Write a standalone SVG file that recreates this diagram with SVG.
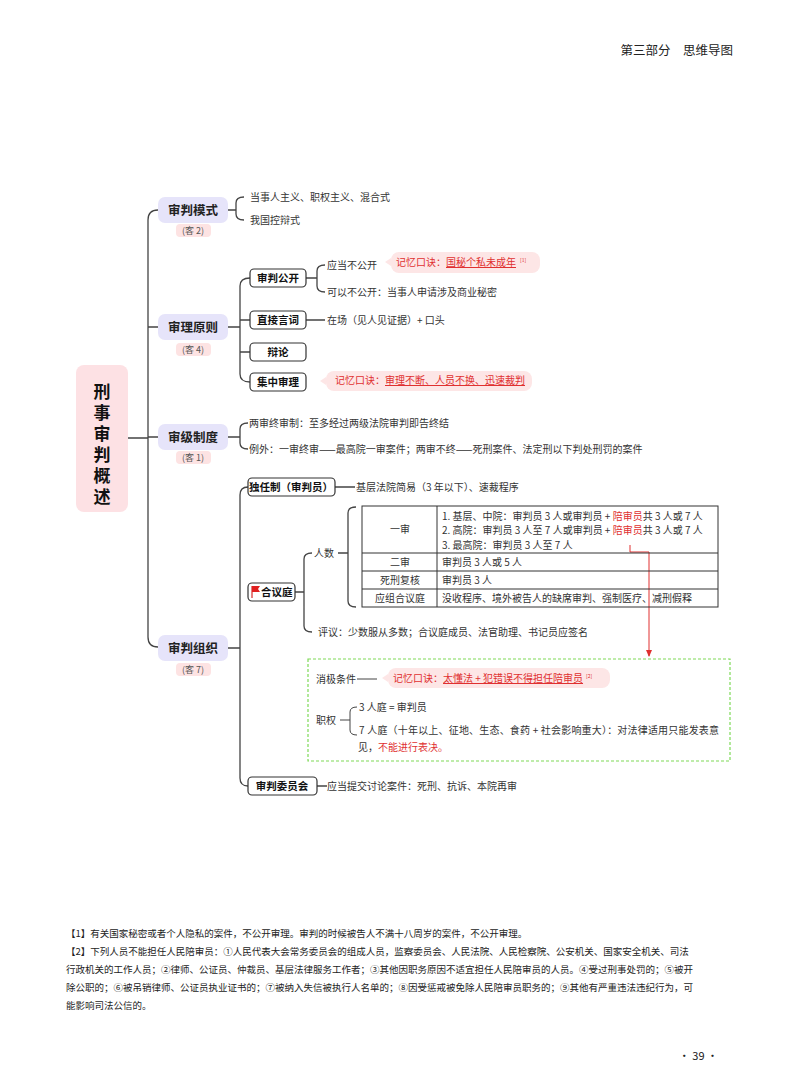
<svg xmlns="http://www.w3.org/2000/svg" width="800" height="1086" viewBox="0 0 800 1086">
<style>
text{font-family:"Noto Sans CJK SC","Noto Sans",sans-serif;fill:#333}
.t{font-size:10px}
.l1{font-size:12.5px;font-weight:bold;fill:#222}
.l2{font-size:10.5px;font-weight:bold;fill:#111}
.tag{font-size:9px;fill:#555}
.r{fill:#e03030}
.ln{fill:none;stroke:#444;stroke-width:1.3}
.b1{fill:#e6e4fa}
.b2{fill:#fff;stroke:#333;stroke-width:1.2}
.pk{fill:#fde3e3}
.pill{fill:#fde6e6}
.fn{font-size:9.5px;fill:#222}
.rt{font-size:17px;font-weight:bold;fill:#111}
</style>
<defs><marker id="ar" markerWidth="8" markerHeight="8" refX="6" refY="4" orient="auto"><path d="M0,1 L7,4 L0,7z" fill="#e03030"/></marker></defs>
<text x="733" y="55" text-anchor="end" style="font-size:12.5px;fill:#222">第三部分　思维导图</text>

<g id="connectors">
<path class="ln" d="M128,438 H148 M158,210 Q148,210 148,220 V637 Q148,647 158,647 M148,327 H158 M148,437 H158"/>
<path class="ln" d="M228,210 H236 M244,197 Q236,197 236,203 V214 Q236,220 244,220"/>
<path class="ln" d="M228,327 H240 M250,278 Q240,278 240,286 V374 Q240,382 250,382 M240,320 H250 M240,352 H250"/>
<path class="ln" d="M306,278 H317 M325,265 Q317,265 317,271 V286 Q317,292 325,292 M306,320 H325"/>
<path class="ln" d="M228,437 H240 M248,423 Q240,423 240,429 V443 Q240,449 248,449"/>
<path class="ln" d="M228,648 H240 M248,487 Q240,487 240,495 V778 Q240,786 248,786 M335,487 H355 M317,786 H327"/>
<path class="ln" d="M295,592 H304 M312,553 Q304,553 304,559 V626 Q304,632 312,632 M338,553 H348 M356,507 Q348,507 348,513 V601 Q348,607 356,607"/>
<path d="M630,545 V552 H649 V656" fill="none" stroke="#e03030" stroke-width="1" marker-end="url(#ar)"/>
<path class="ln" d="M357,679 H377 M340,720 H350 M357,707 Q350,707 350,712 V730 Q350,735 357,735" style="stroke-width:1"/>
</g>

<g id="root"><rect x="76" y="365" width="52" height="147" rx="8" fill="#fde1e4"/>
<text class="rt" x="102" y="398" text-anchor="middle">刑</text>
<text class="rt" x="102" y="419" text-anchor="middle">事</text>
<text class="rt" x="102" y="440" text-anchor="middle">审</text>
<text class="rt" x="102" y="461" text-anchor="middle">判</text>
<text class="rt" x="102" y="482" text-anchor="middle">概</text>
<text class="rt" x="102" y="503" text-anchor="middle">述</text></g>

<g id="n-mode"><rect class="b1" x="158" y="197" width="70" height="26" rx="7"/><text class="l1" x="193" y="215" text-anchor="middle">审判模式</text>
<rect class="pk" x="176" y="224" width="35" height="13" rx="4"/><text class="tag" x="193" y="234" text-anchor="middle">(客 2)</text></g>
<text class="t" x="250" y="201">当事人主义、职权主义、混合式</text>
<text class="t" x="250" y="224">我国控辩式</text>

<g id="n-principle"><rect class="b1" x="158" y="314" width="70" height="26" rx="7"/><text class="l1" x="193" y="332" text-anchor="middle">审理原则</text>
<rect class="pk" x="176" y="343" width="35" height="13" rx="4"/><text class="tag" x="193" y="353" text-anchor="middle">(客 4)</text></g>
<g id="n-gk"><rect class="b2" x="250" y="269" width="56" height="18" rx="4"/><text class="l2" x="278" y="282" text-anchor="middle">审判公开</text></g>
<text class="t" x="327" y="269">应当不公开</text>
<text class="t" x="327" y="296">可以不公开：当事人申请涉及商业秘密</text>
<g id="p1"><rect class="pill" x="391" y="252" width="149" height="21" rx="8"/><path d="M391,258 L385,262 L391,266z" fill="#fde6e6"/>
<text class="t" x="396" y="266" style="fill:#e03030;font-size:10px">记忆口诀：<tspan text-decoration="underline" style="fill:#e03030">国秘个私未成年</tspan><tspan dx="4" dy="-4" style="font-size:5px;fill:#e03030">[1]</tspan></text></g>
<g id="n-zj"><rect class="b2" x="250" y="311" width="56" height="18" rx="4"/><text class="l2" x="278" y="324" text-anchor="middle">直接言词</text></g>
<text class="t" x="327" y="324">在场（见人见证据）+ 口头</text>
<g id="n-bl"><rect class="b2" x="250" y="343" width="56" height="18" rx="4"/><text class="l2" x="278" y="356" text-anchor="middle">辩论</text></g>
<g id="n-jz"><rect class="b2" x="250" y="373" width="56" height="18" rx="4"/><text class="l2" x="278" y="386" text-anchor="middle">集中审理</text></g>
<g id="p2"><rect class="pill" x="326" y="371" width="206" height="20" rx="8"/><path d="M326,377 L320,381 L326,385z" fill="#fde6e6"/>
<text class="t" x="335" y="384" style="fill:#e03030">记忆口诀：<tspan text-decoration="underline" style="fill:#e03030">审理不断、人员不换、迅速裁判</tspan></text></g>

<g id="n-level"><rect class="b1" x="158" y="424" width="70" height="26" rx="7"/><text class="l1" x="193" y="442" text-anchor="middle">审级制度</text>
<rect class="pk" x="176" y="451" width="35" height="13" rx="4"/><text class="tag" x="193" y="461" text-anchor="middle">(客 1)</text></g>
<text class="t" x="249" y="427">两审终审制：至多经过两级法院审判即告终结</text>
<text class="t" x="249" y="453">例外：一审终审——最高院一审案件；两审不终——死刑案件、法定刑以下判处刑罚的案件</text>

<g id="n-org"><rect class="b1" x="158" y="635" width="70" height="26" rx="7"/><text class="l1" x="193" y="653" text-anchor="middle">审判组织</text>
<rect class="pk" x="176" y="663" width="35" height="13" rx="4"/><text class="tag" x="193" y="673" text-anchor="middle">(客 7)</text></g>
<g id="n-dr"><rect class="b2" x="248" y="478" width="87" height="18" rx="4"/><text class="l2" x="291" y="491" text-anchor="middle">独任制（审判员）</text></g>
<text class="t" x="356" y="491">基层法院简易（3 年以下）、速裁程序</text>
<g id="n-hy"><rect class="b2" x="248" y="583" width="47" height="18" rx="4"/>
<path d="M252,586 V598" stroke="#c00" stroke-width="1"/><path d="M252,586 H260 L258,589 L260,592 H252z" fill="#e02020"/>
<text class="l2" x="261" y="596">合议庭</text></g>
<text class="t" x="314" y="557">人数</text>
<text class="t" x="318" y="636">评议：少数服从多数；合议庭成员、法官助理、书记员应签名</text>
<g id="table" class="t">
<rect x="362" y="506" width="356" height="101" fill="none" stroke="#333" stroke-width="1"/>
<path d="M437,506 V607 M362,553 H718 M362,571 H718 M362,589 H718" stroke="#333" stroke-width="1"/>
<text x="400" y="533" text-anchor="middle">一审</text>
<text x="400" y="566" text-anchor="middle">二审</text>
<text x="400" y="584" text-anchor="middle">死刑复核</text>
<text x="400" y="602" text-anchor="middle">应组合议庭</text>
<text x="442" y="520">1. 基层、中院：审判员 3 人或审判员 + <tspan class="r">陪审员</tspan>共 3 人或 7 人</text>
<text x="442" y="534">2. 高院：审判员 3 人至 7 人或审判员 + <tspan class="r">陪审员</tspan>共 3 人或 7 人</text>
<text x="442" y="549">3. 最高院：审判员 3 人至 7 人</text>
<text x="442" y="566">审判员 3 人或 5 人</text>
<text x="442" y="584">审判员 3 人</text>
<text x="442" y="602">没收程序、境外被告人的缺席审判、强制医疗、减刑假释</text>
</g>
<g id="green"><rect x="308" y="659" width="422" height="102" fill="none" stroke="#7ed957" stroke-width="1.2" stroke-dasharray="3,2"/>
<text class="t" x="316" y="683">消极条件</text>
<rect class="pill" x="388" y="668" width="222" height="20" rx="8"/><path d="M388,674 L382,678 L388,682z" fill="#fde6e6"/>
<text class="t" x="393" y="682" style="fill:#e03030">记忆口诀：<tspan text-decoration="underline" style="fill:#e03030">太懂法 + 犯错误不得担任陪审员</tspan><tspan dx="3" dy="-4" style="font-size:5px;fill:#e03030">[2]</tspan></text>
<text class="t" x="316" y="724">职权</text>
<text class="t" x="359" y="711">3 人庭 = 审判员</text>
<text class="t" x="359" y="734" textLength="360" lengthAdjust="spacing">7 人庭（十年以上、征地、生态、食药 + 社会影响重大）：对法律适用只能发表意</text>
<text class="t" x="358" y="751">见，<tspan class="r">不能进行表决。</tspan></text></g>
<g id="n-wyh"><rect class="b2" x="248" y="777" width="69" height="18" rx="4"/><text class="l2" x="282" y="790" text-anchor="middle">审判委员会</text></g>
<text class="t" x="327" y="790">应当提交讨论案件：死刑、抗诉、本院再审</text>

<g id="notes" class="fn">
<text class="fn" x="66" y="937">【1】有关国家秘密或者个人隐私的案件，不公开审理。审判的时候被告人不满十八周岁的案件，不公开审理。</text>
<text class="fn" x="66" y="955">【2】下列人员不能担任人民陪审员：①人民代表大会常务委员会的组成人员，监察委员会、人民法院、人民检察院、公安机关、国家安全机关、司法</text>
<text class="fn" x="66" y="973">行政机关的工作人员；②律师、公证员、仲裁员、基层法律服务工作者；③其他因职务原因不适宜担任人民陪审员的人员。④受过刑事处罚的；⑤被开</text>
<text class="fn" x="66" y="991">除公职的；⑥被吊销律师、公证员执业证书的；⑦被纳入失信被执行人名单的；⑧因受惩戒被免除人民陪审员职务的；⑨其他有严重违法违纪行为，可</text>
<text class="fn" x="66" y="1009">能影响司法公信的。</text>
</g>
<text x="718" y="1060" text-anchor="end" style="font-size:11px;fill:#222">· 39 ·</text>
</svg>
